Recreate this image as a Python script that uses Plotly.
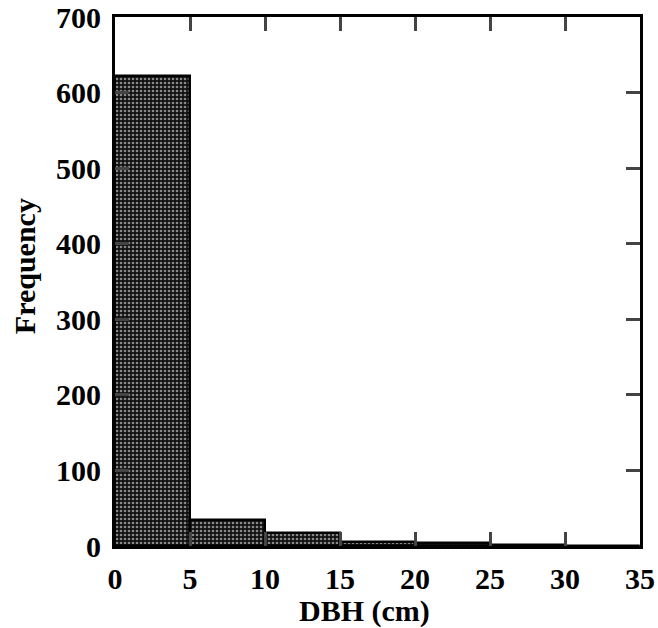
import plotly.graph_objects as go

bin_starts = [0, 5, 10, 15, 20, 25, 30]
frequency = [622, 34, 17, 5, 4, 1, 0]
x_ticks = [0, 5, 10, 15, 20, 25, 30, 35]
y_ticks = [0, 100, 200, 300, 400, 500, 600, 700]
x_title = "DBH (cm)"
y_title = "Frequency"

fig = go.Figure()
fig.add_trace(go.Bar(
    x=[s + 2.5 for s in bin_starts],
    y=frequency,
    width=5,
    marker=dict(
        color="black",
        line=dict(color="black", width=2.5),
        pattern=dict(shape=".", fgcolor="white", bgcolor="#111", size=4, solidity=0.35),
    ),
))

tick_font = dict(family="Liberation Serif", size=30, color="black", weight="bold")
title_font = dict(family="Liberation Serif", size=30, color="black", weight="bold")
fig.update_layout(
    width=658, height=628,
    margin=dict(l=115, r=18, t=17, b=82),
    plot_bgcolor="white", paper_bgcolor="white",
    showlegend=False, bargap=0,
)
fig.update_xaxes(
    range=[0, 35], tickvals=x_ticks, ticks="inside", ticklen=14, tickwidth=2.5,
    showline=True, linecolor="black", linewidth=3, mirror="ticks", showgrid=False, zeroline=False,
    tickfont=tick_font, ticklabelstandoff=4, automargin=False, ticklabeloverflow="allow",
)
fig.update_yaxes(
    range=[0, 700], tickvals=y_ticks, ticks="inside", ticklen=14, tickwidth=2.5,
    showline=True, linecolor="black", linewidth=3, mirror="ticks", showgrid=False, zeroline=False,
    tickfont=tick_font, ticklabelstandoff=5, automargin=False, ticklabeloverflow="allow",
)
fig.add_annotation(
    text=x_title, xref="paper", yref="paper", x=0.476, y=0,
    xanchor="center", yanchor="middle", yshift=-65, showarrow=False, font=title_font,
)
fig.add_annotation(
    text=y_title, xref="paper", yref="paper", x=0, y=0.529, textangle=-90,
    xanchor="center", yanchor="middle", xshift=-91, showarrow=False, font=title_font,
)
fig.write_html(
    "out.html",
    config={"displayModeBar": False},
    post_script="document.body.style.margin='0';document.body.style.overflow='hidden';",
)
